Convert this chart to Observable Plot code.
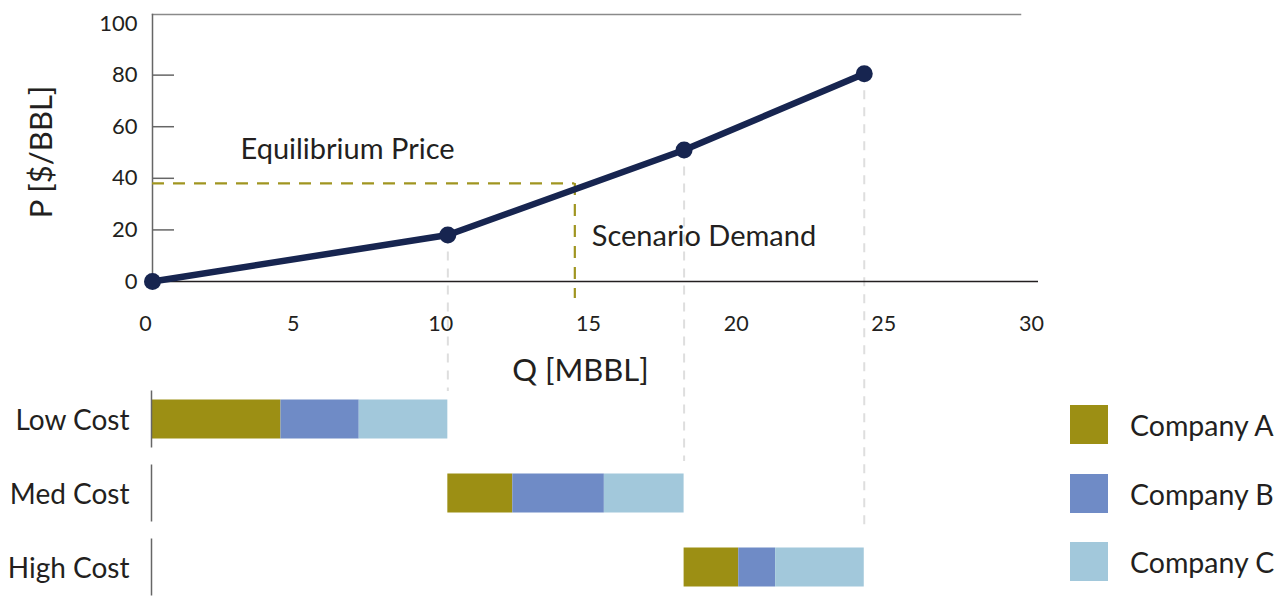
<!DOCTYPE html>
<html><head><meta charset="utf-8">
<script src="https://cdn.jsdelivr.net/npm/d3@7"></script>
<script src="https://cdn.jsdelivr.net/npm/@observablehq/plot@0.6"></script>
<style>
body{margin:0;background:#fff;}
#chart{position:relative;width:1288px;height:596px;overflow:hidden;font-family:Lato,sans-serif;color:#231f20;}
#chart svg{position:absolute;left:0;top:0;}
.item{position:absolute;left:1070px;display:flex;align-items:center;white-space:nowrap;}
.sw{width:38px;height:39px;margin-right:22px;}
.item span{font-size:28.5px;}
</style></head><body><div id="chart"></div>
<script>
// ---- data ----
const supplyQ = [0, 10, 18, 24.1];
const supplyP = [0, 18, 51, 80.5];
const equilibriumPrice = 38;
const scenarioDemand = 14.3;
const costTiers = ["Low Cost", "Med Cost", "High Cost"];
const companies = ["Company A", "Company B", "Company C"];
const companyA = [4.35, 2.2, 1.85];
const companyB = [2.65, 3.1, 1.25];
const companyC = [3.0, 2.7, 3.0];
const companyColors = ["#9c8f14", "#6f8bc6", "#a2c8db"];
const xTicks = [0, 5, 10, 15, 20, 25, 30];
const yTicks = [0, 20, 40, 60, 80, 100];

// ---- layout ----
const W = 1288, H = 596, ML = 152, XR = 1038;
const FONT = "Lato, sans-serif";
const TXT = "#231f20";
const NAVY = "#172550";
const OLIVE = "#a09520";

const points = supplyQ.map((q, i) => ({q, p: supplyP[i]}));
const bars = [];
let start = 0;
costTiers.forEach((tier, i) => {
  [companyA, companyB, companyC].forEach((arr, j) => {
    bars.push({tier, company: companies[j], x1: start, x2: start + arr[i]});
    start += arr[i];
  });
});

const chart = document.getElementById("chart");

const bottom = Plot.plot({
  width: W, height: H, marginLeft: ML, marginRight: W - XR, marginTop: 382, marginBottom: 0,
  style: {fontFamily: FONT, background: "transparent", color: TXT},
  x: {domain: [0, 30], axis: null},
  y: {domain: costTiers, range: [382, 604], padding: 0},
  color: {domain: companies, range: companyColors},
  marks: [
    Plot.barX(bars, {x1: "x1", x2: "x2", y: "tier", fill: "company", insetTop: 17.5, insetBottom: 17.5}),
    Plot.ruleX(costTiers, {x: () => 0, y1: d => d, y2: d => d, dx: -1, stroke: "#666", strokeWidth: 1.5, insetTop: 8.5, insetBottom: 8.5}),
    Plot.axisY({tickSize: 0, tickPadding: 23, fontSize: 28, label: null, fill: TXT, dy: 2})
  ]
});
chart.appendChild(bottom);

const dashes = [
  {i: 1, ext: -110},
  {i: 2, ext: -180},
  {i: 3, ext: -247}
];

const topPlot = Plot.plot({
  width: W, height: H, marginTop: 14, marginBottom: H - 281, marginLeft: ML, marginRight: W - XR,
  style: {fontFamily: FONT, background: "transparent", color: TXT},
  x: {domain: [0, 30]},
  y: {domain: [0, 103.5]},
  marks: [
    Plot.frame({anchor: "top", stroke: "#8a8a8a", strokeWidth: 1.5, insetRight: 18}),
    Plot.frame({anchor: "left", stroke: "#666", strokeWidth: 1.5}),
    Plot.ruleY(yTicks.filter(v => v > 0 && v < 100), {stroke: "#666", strokeWidth: 1.5, insetRight: (XR - ML) - 22}),
    Plot.axisY(yTicks, {tickSize: 0, tickPadding: 15, fontSize: 22, label: null, fill: TXT}),
    Plot.axisX(xTicks, {tickSize: 0, tickPadding: 34, fontSize: 21.5, label: null, dx: -7, fill: TXT}),
    ...dashes.map(d => Plot.ruleX([points[d.i]], {x: "q", y1: "p", y2: () => 0, insetBottom: d.ext, stroke: "#dedede", strokeWidth: 2, strokeDasharray: "9,8"})),
    Plot.ruleY([equilibriumPrice], {x1: 0, x2: scenarioDemand, stroke: OLIVE, strokeWidth: 2.2, strokeDasharray: "12,9"}),
    Plot.ruleX([scenarioDemand], {y1: equilibriumPrice, y2: 0, insetBottom: -17, stroke: OLIVE, strokeWidth: 2.2, strokeDasharray: "12,9"}),
    Plot.ruleY([0], {stroke: TXT, strokeWidth: 1.5}),
    Plot.line(points, {x: "q", y: "p", stroke: NAVY, strokeWidth: 6.5}),
    Plot.dot(points, {x: "q", y: "p", fill: NAVY, r: 8.5}),
    Plot.text([{t: "Equilibrium Price"}], {x: () => 0, y: () => equilibriumPrice, text: "t", textAnchor: "start", dx: 88, dy: -34, fontSize: 29, fill: TXT}),
    Plot.text([{t: "Scenario Demand"}], {x: () => scenarioDemand, y: () => equilibriumPrice, text: "t", textAnchor: "start", dx: 17, dy: 53, fontSize: 29, fill: TXT}),
    Plot.text(["P [$/BBL]"], {frameAnchor: "left", textAnchor: "middle", rotate: -90, dx: -110, dy: 4, fontSize: 31, fill: TXT}),
    Plot.text(["Q [MBBL]"], {frameAnchor: "bottom", textAnchor: "middle", dx: -15, dy: 99, fontSize: 31, fill: TXT})
  ]
});
chart.appendChild(topPlot);

// legend
const legendTops = [405, 474, 542];
companies.forEach((c, i) => {
  const item = document.createElement("div");
  item.className = "item";
  item.style.top = legendTops[i] + "px";
  const sw = document.createElement("div");
  sw.className = "sw";
  sw.style.background = companyColors[i];
  const lab = document.createElement("span");
  lab.textContent = c;
  item.appendChild(sw);
  item.appendChild(lab);
  chart.appendChild(item);
});
</script></body></html>
